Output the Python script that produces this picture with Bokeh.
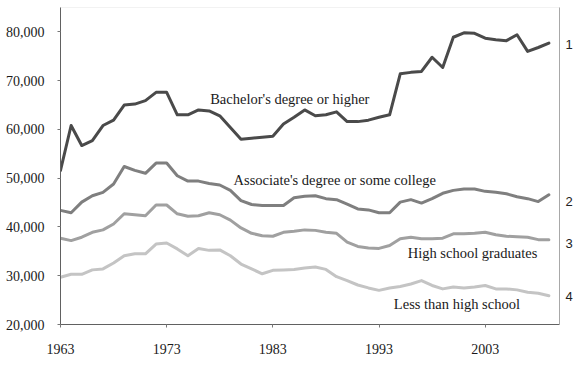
from bokeh.plotting import figure
from bokeh.models import (FixedTicker, NumeralTickFormatter, Range1d, Label,
                          LinearAxis, BoxAnnotation)
from bokeh.embed import file_html
from bokeh.resources import INLINE

years = list(range(1963, 2010))

bachelor = [51600, 60800, 56700, 57700, 60800, 61900, 65000, 65200, 65900, 67600,
            67600, 63000, 63000, 64000, 63800, 62800, 60400, 58000, 58200, 58400,
            58600, 61100, 62500, 64000, 62800, 63000, 63600, 61600, 61600, 61900,
            62500, 63000, 71400, 71700, 71900, 74800, 72700, 78900, 79800, 79700,
            78700, 78400, 78200, 79400, 76000, 76800, 77700]

associate = [43400, 42900, 45100, 46400, 47100, 48800, 52400, 51600, 51000, 53100,
             53100, 50500, 49400, 49400, 48900, 48600, 47500, 45400, 44600, 44400,
             44400, 44400, 46000, 46300, 46400, 45800, 45600, 44700, 43700, 43500,
             42900, 42900, 45100, 45600, 44900, 45800, 46900, 47500, 47800, 47800,
             47300, 47100, 46800, 46200, 45800, 45200, 46600]

high_school = [37700, 37200, 37900, 38900, 39400, 40600, 42700, 42500, 42300, 44500,
               44500, 42700, 42200, 42300, 42900, 42500, 41400, 39800, 38700, 38200,
               38100, 38900, 39100, 39400, 39300, 38900, 38700, 36900, 36000, 35700,
               35600, 36200, 37600, 37900, 37600, 37600, 37700, 38600, 38600, 38700,
               38900, 38400, 38100, 38000, 37900, 37400, 37400]

less_hs = [29700, 30300, 30300, 31200, 31400, 32600, 34100, 34500, 34500, 36500,
           36700, 35500, 34100, 35600, 35200, 35300, 34100, 32400, 31400, 30400,
           31100, 31200, 31300, 31600, 31800, 31300, 29800, 29000, 28100, 27500,
           27000, 27500, 27800, 28300, 29000, 28000, 27300, 27700, 27500, 27700,
           28000, 27300, 27300, 27100, 26600, 26400, 25900]

series_names = ["Bachelor's degree or higher", "Associate's degree or some college",
                "High school graduates", "Less than high school"]
series_colors = ["#4a4a4a", "#7f7f7f", "#a0a0a0", "#c4c4c4"]

# inline label anchors (left edge, vertical middle) in data units
label_x = [1977.1, 1979.3, 1995.7, 1994.4]
label_y = [66300, 49700, 34700, 24300]

# right-side index labels
right_labels = ["1", "2", "3", "4"]
right_y = [77500, 45200, 36600, 25700]

x_ticks = [1963, 1973, 1983, 1993, 2003]
y_ticks = [20000, 30000, 40000, 50000, 60000, 70000, 80000]

SERIF = "Liberation Serif"

p = figure(width=581, height=378, output_backend="svg", toolbar_location=None,
           x_range=Range1d(1963, 2010), y_range=Range1d(20000, 85000),
           min_border_left=60, min_border_right=22, min_border_top=7,
           min_border_bottom=54)
p.background_fill_color = "white"
p.border_fill_color = "white"
p.outline_line_color = None
p.xgrid.grid_line_color = None
p.ygrid.grid_line_color = None

# light frame border (top / right)
p.add_layout(BoxAnnotation(fill_color=None, line_color="#a8a8a8", line_width=1))

for vals, col in zip([bachelor, associate, high_school, less_hs], series_colors):
    p.line(years, vals, line_color=col, line_width=3, line_join="round", line_cap="round")

for name, lx, ly in zip(series_names, label_x, label_y):
    p.add_layout(Label(x=lx, y=ly, text=name, text_font=SERIF, text_font_size="14.5px",
                       text_color="#1a1a1a", text_baseline="middle", text_align="left"))

# right axis carrying the 1-4 index labels
ra = LinearAxis(ticker=FixedTicker(ticks=right_y),
                major_label_overrides={float(v): t for v, t in zip(right_y, right_labels)})
ra.axis_line_color = "#a8a8a8"
ra.major_tick_line_color = None
ra.minor_tick_line_color = None
ra.major_tick_out = 0
ra.major_tick_in = 0
ra.major_label_standoff = 6
ra.major_label_text_font = "Liberation Sans"
ra.major_label_text_font_size = "13px"
ra.major_label_text_color = "#222222"
p.add_layout(ra, "right")

xa = p.xaxis[0]
xa.ticker = FixedTicker(ticks=x_ticks)
xa.axis_line_color = "#555555"
xa.major_tick_line_color = "#777777"
xa.major_tick_out = 3
xa.major_tick_in = 0
xa.minor_tick_line_color = None
xa.major_label_text_font = SERIF
xa.major_label_text_font_size = "14px"
xa.major_label_text_color = "#1a1a1a"
xa.major_label_standoff = 16

ya = p.yaxis[0]
ya.ticker = FixedTicker(ticks=y_ticks)
ya.formatter = NumeralTickFormatter(format="0,0")
ya.axis_line_color = "#555555"
ya.major_tick_line_color = "#777777"
ya.major_tick_out = 3
ya.major_tick_in = 0
ya.minor_tick_line_color = None
ya.major_label_text_font = SERIF
ya.major_label_text_font_size = "14px"
ya.major_label_text_color = "#1a1a1a"
ya.major_label_standoff = 13

open("out.html", "w").write(file_html(p, INLINE))
